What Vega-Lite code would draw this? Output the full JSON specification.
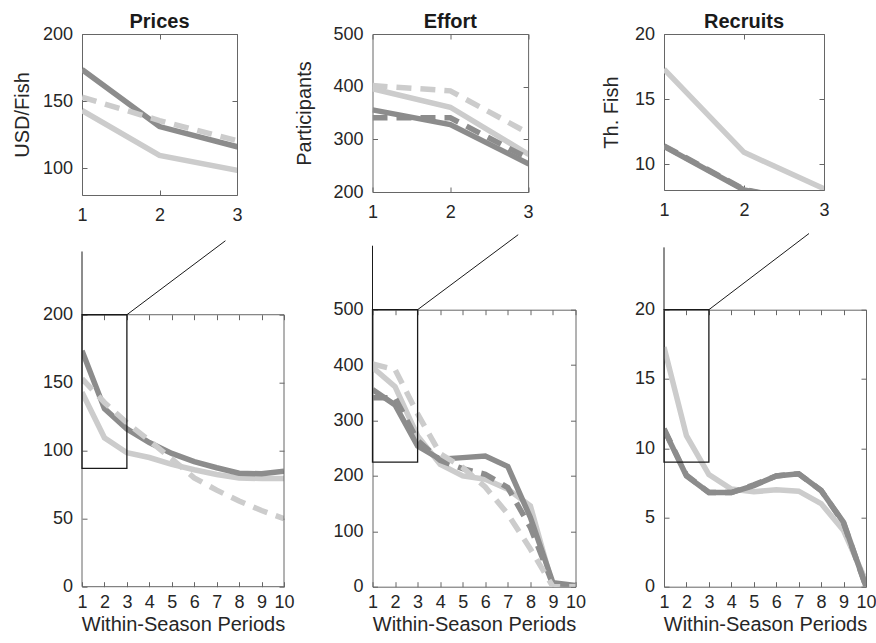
{
  "$schema": "https://vega.github.io/schema/vega-lite/v6.json",
  "background": "white",
  "padding": {"left": 12, "top": 11, "right": 0, "bottom": 0},
  "config": {
    "font": "Liberation Sans",
    "view": {"stroke": "#666666", "strokeWidth": 1},
    "axis": {"labelFont": "Liberation Sans", "labelFontSize": 18, "labelColor": "#262626", "titleFont": "Liberation Sans", "titleFontSize": 20, "titleFontWeight": "normal", "titleColor": "#262626", "domain": false, "tickColor": "#666666", "tickSize": -5, "tickWidth": 1, "grid": false, "labelFlush": false, "labelOverlap": false, "labelBound": false, "format": "d"},
    "title": {"font": "Liberation Sans", "fontSize": 20, "fontWeight": "bold", "color": "#1a1a1a", "offset": -7, "frame": "group", "anchor": "middle"}
  },
  "datasets": {
    "prices": [
      {"s": "ls", "x": 1, "v": 143}, {"s": "ls", "x": 2, "v": 109.5}, {"s": "ls", "x": 3, "v": 98.5}, {"s": "ls", "x": 4, "v": 95}, {"s": "ls", "x": 5, "v": 90}, {"s": "ls", "x": 6, "v": 86}, {"s": "ls", "x": 7, "v": 82.5}, {"s": "ls", "x": 8, "v": 80}, {"s": "ls", "x": 9, "v": 79.5}, {"s": "ls", "x": 10, "v": 79.5},
      {"s": "ds", "x": 1, "v": 173.5}, {"s": "ds", "x": 2, "v": 131}, {"s": "ds", "x": 3, "v": 116}, {"s": "ds", "x": 4, "v": 106}, {"s": "ds", "x": 5, "v": 98}, {"s": "ds", "x": 6, "v": 92}, {"s": "ds", "x": 7, "v": 87.5}, {"s": "ds", "x": 8, "v": 83.5}, {"s": "ds", "x": 9, "v": 83}, {"s": "ds", "x": 10, "v": 85},
      {"s": "ld", "x": 1, "v": 153}, {"s": "ld", "x": 2, "v": 135.5}, {"s": "ld", "x": 3, "v": 120.5}, {"s": "ld", "x": 4, "v": 107.5}, {"s": "ld", "x": 5, "v": 94}, {"s": "ld", "x": 6, "v": 80}, {"s": "ld", "x": 7, "v": 71}, {"s": "ld", "x": 8, "v": 63}, {"s": "ld", "x": 9, "v": 56}, {"s": "ld", "x": 10, "v": 50}
    ],
    "effort": [
      {"s": "ls", "x": 1, "v": 396}, {"s": "ls", "x": 2, "v": 361}, {"s": "ls", "x": 3, "v": 272}, {"s": "ls", "x": 4, "v": 221}, {"s": "ls", "x": 5, "v": 200}, {"s": "ls", "x": 6, "v": 194}, {"s": "ls", "x": 7, "v": 176}, {"s": "ls", "x": 8, "v": 146}, {"s": "ls", "x": 9, "v": 0}, {"s": "ls", "x": 10, "v": 0},
      {"s": "ds", "x": 1, "v": 356}, {"s": "ds", "x": 2, "v": 328}, {"s": "ds", "x": 3, "v": 254}, {"s": "ds", "x": 4, "v": 230}, {"s": "ds", "x": 5, "v": 233}, {"s": "ds", "x": 6, "v": 236}, {"s": "ds", "x": 7, "v": 217}, {"s": "ds", "x": 8, "v": 125}, {"s": "ds", "x": 9, "v": 7}, {"s": "ds", "x": 10, "v": 2},
      {"s": "dd", "x": 1, "v": 341}, {"s": "dd", "x": 2, "v": 341}, {"s": "dd", "x": 3, "v": 264}, {"s": "dd", "x": 4, "v": 228}, {"s": "dd", "x": 5, "v": 213}, {"s": "dd", "x": 6, "v": 203}, {"s": "dd", "x": 7, "v": 179}, {"s": "dd", "x": 8, "v": 107}, {"s": "dd", "x": 9, "v": 4}, {"s": "dd", "x": 10, "v": 1},
      {"s": "ld", "x": 1, "v": 402}, {"s": "ld", "x": 2, "v": 392}, {"s": "ld", "x": 3, "v": 312}, {"s": "ld", "x": 4, "v": 240}, {"s": "ld", "x": 5, "v": 215}, {"s": "ld", "x": 6, "v": 180}, {"s": "ld", "x": 7, "v": 131}, {"s": "ld", "x": 8, "v": 68}, {"s": "ld", "x": 9, "v": 0}, {"s": "ld", "x": 10, "v": 0}
    ],
    "recruits": [
      {"s": "ls", "x": 1, "v": 17.3}, {"s": "ls", "x": 2, "v": 10.9}, {"s": "ls", "x": 3, "v": 8.1}, {"s": "ls", "x": 4, "v": 7.05}, {"s": "ls", "x": 5, "v": 6.85}, {"s": "ls", "x": 6, "v": 7.0}, {"s": "ls", "x": 7, "v": 6.9}, {"s": "ls", "x": 8, "v": 6.0}, {"s": "ls", "x": 9, "v": 4.05}, {"s": "ls", "x": 10, "v": 0.4},
      {"s": "ds", "x": 1, "v": 11.35}, {"s": "ds", "x": 2, "v": 8.0}, {"s": "ds", "x": 3, "v": 6.8}, {"s": "ds", "x": 4, "v": 6.8}, {"s": "ds", "x": 5, "v": 7.3}, {"s": "ds", "x": 6, "v": 8.0}, {"s": "ds", "x": 7, "v": 8.15}, {"s": "ds", "x": 8, "v": 6.95}, {"s": "ds", "x": 9, "v": 4.65}, {"s": "ds", "x": 10, "v": 0},
      {"s": "dd", "x": 1, "v": 11.4}, {"s": "dd", "x": 2, "v": 8.05}, {"s": "dd", "x": 3, "v": 6.8}, {"s": "dd", "x": 4, "v": 6.8}, {"s": "dd", "x": 5, "v": 7.35}, {"s": "dd", "x": 6, "v": 8.0}, {"s": "dd", "x": 7, "v": 8.15}, {"s": "dd", "x": 8, "v": 6.95}, {"s": "dd", "x": 9, "v": 4.6}, {"s": "dd", "x": 10, "v": 0}
    ]
  },
  "columns": 3,
  "spacing": {"row": 114.7, "column": 88.5},
  "bounds": "flush",
  "concat": [
    {
      "title": "Prices",
      "width": 155, "height": 161,
      "layer": [
        {"data": {"name": "prices"}, "transform": [{"filter": "datum.s == 'ls'"}],
         "mark": {"type": "line", "color": "#cccccc", "strokeWidth": 5.5, "clip": true},
         "encoding": {
           "x": {"field": "x", "type": "quantitative", "scale": {"domain": [1, 3], "nice": false, "zero": false}, "axis": {"values": [1, 2, 3], "labelPadding": 16, "title": null}},
           "y": {"field": "v", "type": "quantitative", "scale": {"domain": [80, 200], "nice": false, "zero": false}, "axis": {"values": [100, 150, 200], "labelPadding": 14.5, "title": "USD/Fish", "titlePadding": 9.5}}}},
        {"data": {"name": "prices"}, "transform": [{"filter": "datum.s == 'ds'"}],
         "mark": {"type": "line", "color": "#8c8c8c", "strokeWidth": 5.5, "clip": true},
         "encoding": {
           "x": {"field": "x", "type": "quantitative", "scale": {"domain": [1, 3], "nice": false, "zero": false}, "axis": null},
           "y": {"field": "v", "type": "quantitative", "scale": {"domain": [80, 200], "nice": false, "zero": false}, "axis": null}}},
        {"data": {"name": "prices"}, "transform": [{"filter": "datum.s == 'ld'"}],
         "mark": {"type": "line", "color": "#cccccc", "strokeWidth": 5.5, "strokeDash": [15, 9], "clip": true},
         "encoding": {
           "x": {"field": "x", "type": "quantitative", "scale": {"domain": [1, 3], "nice": false, "zero": false}, "axis": null},
           "y": {"field": "v", "type": "quantitative", "scale": {"domain": [80, 200], "nice": false, "zero": false}, "axis": null}}},
        {"data": {"values": [{"x": 2, "v": 150}]},
         "mark": {"type": "point", "opacity": 0},
         "encoding": {
           "x": {"field": "x", "type": "quantitative", "scale": {"domain": [1, 3], "nice": false, "zero": false}, "axis": {"orient": "top", "values": [1, 2, 3], "labels": false, "title": null}},
           "y": {"field": "v", "type": "quantitative", "scale": {"domain": [80, 200], "nice": false, "zero": false}, "axis": {"orient": "right", "values": [100, 150, 200], "labels": false, "title": null}}}}
      ],
      "resolve": {"axis": {"x": "independent", "y": "independent"}}
    },
    {
      "title": "Effort",
      "width": 155.6, "height": 158,
      "layer": [
        {"data": {"name": "effort"}, "transform": [{"filter": "datum.s == 'ls'"}],
         "mark": {"type": "line", "color": "#cccccc", "strokeWidth": 5.5, "clip": true},
         "encoding": {
           "x": {"field": "x", "type": "quantitative", "scale": {"domain": [1, 3], "nice": false, "zero": false}, "axis": {"values": [1, 2, 3], "labelPadding": 16, "title": null}},
           "y": {"field": "v", "type": "quantitative", "scale": {"domain": [200, 500], "nice": false, "zero": false}, "axis": {"values": [200, 300, 400, 500], "labelPadding": 14.5, "title": "Participants", "titlePadding": 18.7}}}},
        {"data": {"name": "effort"}, "transform": [{"filter": "datum.s == 'ds'"}],
         "mark": {"type": "line", "color": "#8c8c8c", "strokeWidth": 5.5, "clip": true},
         "encoding": {
           "x": {"field": "x", "type": "quantitative", "scale": {"domain": [1, 3], "nice": false, "zero": false}, "axis": null},
           "y": {"field": "v", "type": "quantitative", "scale": {"domain": [200, 500], "nice": false, "zero": false}, "axis": null}}},
        {"data": {"name": "effort"}, "transform": [{"filter": "datum.s == 'dd'"}],
         "mark": {"type": "line", "color": "#8c8c8c", "strokeWidth": 5.5, "strokeDash": [15, 9], "clip": true},
         "encoding": {
           "x": {"field": "x", "type": "quantitative", "scale": {"domain": [1, 3], "nice": false, "zero": false}, "axis": null},
           "y": {"field": "v", "type": "quantitative", "scale": {"domain": [200, 500], "nice": false, "zero": false}, "axis": null}}},
        {"data": {"name": "effort"}, "transform": [{"filter": "datum.s == 'ld'"}],
         "mark": {"type": "line", "color": "#cccccc", "strokeWidth": 5.5, "strokeDash": [15, 9], "clip": true},
         "encoding": {
           "x": {"field": "x", "type": "quantitative", "scale": {"domain": [1, 3], "nice": false, "zero": false}, "axis": null},
           "y": {"field": "v", "type": "quantitative", "scale": {"domain": [200, 500], "nice": false, "zero": false}, "axis": null}}},
        {"data": {"values": [{"x": 2, "v": 300}]},
         "mark": {"type": "point", "opacity": 0},
         "encoding": {
           "x": {"field": "x", "type": "quantitative", "scale": {"domain": [1, 3], "nice": false, "zero": false}, "axis": {"orient": "top", "values": [1, 2, 3], "labels": false, "title": null}},
           "y": {"field": "v", "type": "quantitative", "scale": {"domain": [200, 500], "nice": false, "zero": false}, "axis": {"orient": "right", "values": [200, 300, 400, 500], "labels": false, "title": null}}}}
      ],
      "resolve": {"axis": {"x": "independent", "y": "independent"}}
    },
    {
      "title": "Recruits",
      "width": 160, "height": 156,
      "layer": [
        {"data": {"name": "recruits"}, "transform": [{"filter": "datum.s == 'ls'"}],
         "mark": {"type": "line", "color": "#cccccc", "strokeWidth": 5.5, "clip": true},
         "encoding": {
           "x": {"field": "x", "type": "quantitative", "scale": {"domain": [1, 3], "nice": false, "zero": false}, "axis": {"values": [1, 2, 3], "labelPadding": 16, "title": null}},
           "y": {"field": "v", "type": "quantitative", "scale": {"domain": [8, 20], "nice": false, "zero": false}, "axis": {"values": [10, 15, 20], "labelPadding": 14.5, "title": "Th. Fish", "titlePadding": 13.3}}}},
        {"data": {"name": "recruits"}, "transform": [{"filter": "datum.s == 'ds'"}],
         "mark": {"type": "line", "color": "#8c8c8c", "strokeWidth": 5.5, "clip": true},
         "encoding": {
           "x": {"field": "x", "type": "quantitative", "scale": {"domain": [1, 3], "nice": false, "zero": false}, "axis": null},
           "y": {"field": "v", "type": "quantitative", "scale": {"domain": [8, 20], "nice": false, "zero": false}, "axis": null}}},
        {"data": {"name": "recruits"}, "transform": [{"filter": "datum.s == 'dd'"}],
         "mark": {"type": "line", "color": "#8c8c8c", "strokeWidth": 5.5, "strokeDash": [15, 9], "clip": true},
         "encoding": {
           "x": {"field": "x", "type": "quantitative", "scale": {"domain": [1, 3], "nice": false, "zero": false}, "axis": null},
           "y": {"field": "v", "type": "quantitative", "scale": {"domain": [8, 20], "nice": false, "zero": false}, "axis": null}}},
        {"data": {"values": [{"x": 2, "v": 15}]},
         "mark": {"type": "point", "opacity": 0},
         "encoding": {
           "x": {"field": "x", "type": "quantitative", "scale": {"domain": [1, 3], "nice": false, "zero": false}, "axis": {"orient": "top", "values": [1, 2, 3], "labels": false, "title": null}},
           "y": {"field": "v", "type": "quantitative", "scale": {"domain": [8, 20], "nice": false, "zero": false}, "axis": {"orient": "right", "values": [10, 15, 20], "labels": false, "title": null}}}}
      ],
      "resolve": {"axis": {"x": "independent", "y": "independent"}}
    },
    {
      "width": 202, "height": 277,
      "view": {"stroke": null},
      "layer": [
        {"data": {"name": "prices"}, "transform": [{"filter": "datum.s == 'ls'"}],
         "mark": {"type": "line", "color": "#cccccc", "strokeWidth": 5.5, "clip": true},
         "encoding": {
           "x": {"field": "x", "type": "quantitative", "scale": {"domain": [1, 10], "nice": false, "zero": false}, "axis": {"values": [1, 2, 3, 4, 5, 6, 7, 8, 9, 10], "labelPadding": 11.5, "title": "Within-Season Periods", "titlePadding": 3}},
           "y": {"field": "v", "type": "quantitative", "scale": {"domain": [0, 203.7], "nice": false, "zero": false}, "axis": {"values": [0, 50, 100, 150, 200], "labelPadding": 14.5, "title": null}}}},
        {"data": {"name": "prices"}, "transform": [{"filter": "datum.s == 'ds'"}],
         "mark": {"type": "line", "color": "#8c8c8c", "strokeWidth": 5.5, "clip": true},
         "encoding": {
           "x": {"field": "x", "type": "quantitative", "scale": {"domain": [1, 10], "nice": false, "zero": false}, "axis": null},
           "y": {"field": "v", "type": "quantitative", "scale": {"domain": [0, 203.7], "nice": false, "zero": false}, "axis": null}}},
        {"data": {"name": "prices"}, "transform": [{"filter": "datum.s == 'ld'"}],
         "mark": {"type": "line", "color": "#cccccc", "strokeWidth": 5.5, "strokeDash": [15, 9], "clip": true},
         "encoding": {
           "x": {"field": "x", "type": "quantitative", "scale": {"domain": [1, 10], "nice": false, "zero": false}, "axis": null},
           "y": {"field": "v", "type": "quantitative", "scale": {"domain": [0, 203.7], "nice": false, "zero": false}, "axis": null}}},
        {"data": {"values": [{"x": 1, "x2": 10, "v": 0, "v2": 200}]},
         "mark": {"type": "rect", "filled": false, "stroke": "#666666", "strokeWidth": 1},
         "encoding": {
           "x": {"field": "x", "type": "quantitative", "scale": {"domain": [1, 10], "nice": false, "zero": false}, "axis": null}, "x2": {"field": "x2"},
           "y": {"field": "v", "type": "quantitative", "scale": {"domain": [0, 203.7], "nice": false, "zero": false}, "axis": null}, "y2": {"field": "v2"}}},
        {"data": {"values": [{"x": 1, "x2": 3, "v": 87, "v2": 200}]},
         "mark": {"type": "rect", "filled": false, "stroke": "#1a1a1a", "strokeWidth": 1.3},
         "encoding": {
           "x": {"field": "x", "type": "quantitative", "scale": {"domain": [1, 10], "nice": false, "zero": false}, "axis": null}, "x2": {"field": "x2"},
           "y": {"field": "v", "type": "quantitative", "scale": {"domain": [0, 203.7], "nice": false, "zero": false}, "axis": null}, "y2": {"field": "v2"}}},
        {"data": {"values": [{"x": 1, "x2": 1, "v": 200, "v2": 246.5}, {"x": 3, "x2": 7.39, "v": 200, "v2": 254.4}]},
         "mark": {"type": "rule", "color": "#1a1a1a", "strokeWidth": 1, "clip": false},
         "encoding": {
           "x": {"field": "x", "type": "quantitative", "scale": {"domain": [1, 10], "nice": false, "zero": false}, "axis": null}, "x2": {"field": "x2"},
           "y": {"field": "v", "type": "quantitative", "scale": {"domain": [0, 203.7], "nice": false, "zero": false}, "axis": null}, "y2": {"field": "v2"}}},
        {"data": {"values": [{"x": 5, "v": 100}]},
         "mark": {"type": "point", "opacity": 0},
         "encoding": {
           "x": {"field": "x", "type": "quantitative", "scale": {"domain": [1, 10], "nice": false, "zero": false}, "axis": {"orient": "top", "values": [1, 2, 3, 4, 5, 6, 7, 8, 9, 10], "labels": false, "title": null, "offset": -5}},
           "y": {"field": "v", "type": "quantitative", "scale": {"domain": [0, 203.7], "nice": false, "zero": false}, "axis": {"orient": "right", "values": [0, 50, 100, 150, 200], "labels": false, "title": null}}}}
      ],
      "resolve": {"axis": {"x": "independent", "y": "independent"}}
    },
    {
      "width": 203, "height": 277,
      "layer": [
        {"data": {"name": "effort"}, "transform": [{"filter": "datum.s == 'ls'"}],
         "mark": {"type": "line", "color": "#cccccc", "strokeWidth": 5.5, "clip": true},
         "encoding": {
           "x": {"field": "x", "type": "quantitative", "scale": {"domain": [1, 10], "nice": false, "zero": false}, "axis": {"values": [1, 2, 3, 4, 5, 6, 7, 8, 9, 10], "labelPadding": 11.5, "title": "Within-Season Periods", "titlePadding": 3}},
           "y": {"field": "v", "type": "quantitative", "scale": {"domain": [0, 500], "nice": false, "zero": false}, "axis": {"values": [0, 100, 200, 300, 400, 500], "labelPadding": 14.5, "title": null}}}},
        {"data": {"name": "effort"}, "transform": [{"filter": "datum.s == 'ds'"}],
         "mark": {"type": "line", "color": "#8c8c8c", "strokeWidth": 5.5, "clip": true},
         "encoding": {
           "x": {"field": "x", "type": "quantitative", "scale": {"domain": [1, 10], "nice": false, "zero": false}, "axis": null},
           "y": {"field": "v", "type": "quantitative", "scale": {"domain": [0, 500], "nice": false, "zero": false}, "axis": null}}},
        {"data": {"name": "effort"}, "transform": [{"filter": "datum.s == 'dd'"}],
         "mark": {"type": "line", "color": "#8c8c8c", "strokeWidth": 5.5, "strokeDash": [15, 9], "clip": true},
         "encoding": {
           "x": {"field": "x", "type": "quantitative", "scale": {"domain": [1, 10], "nice": false, "zero": false}, "axis": null},
           "y": {"field": "v", "type": "quantitative", "scale": {"domain": [0, 500], "nice": false, "zero": false}, "axis": null}}},
        {"data": {"name": "effort"}, "transform": [{"filter": "datum.s == 'ld'"}],
         "mark": {"type": "line", "color": "#cccccc", "strokeWidth": 5.5, "strokeDash": [15, 9], "clip": true},
         "encoding": {
           "x": {"field": "x", "type": "quantitative", "scale": {"domain": [1, 10], "nice": false, "zero": false}, "axis": null},
           "y": {"field": "v", "type": "quantitative", "scale": {"domain": [0, 500], "nice": false, "zero": false}, "axis": null}}},
        {"data": {"values": [{"x": 1, "x2": 3, "v": 225, "v2": 500}]},
         "mark": {"type": "rect", "filled": false, "stroke": "#1a1a1a", "strokeWidth": 1.3},
         "encoding": {
           "x": {"field": "x", "type": "quantitative", "scale": {"domain": [1, 10], "nice": false, "zero": false}, "axis": null}, "x2": {"field": "x2"},
           "y": {"field": "v", "type": "quantitative", "scale": {"domain": [0, 500], "nice": false, "zero": false}, "axis": null}, "y2": {"field": "v2"}}},
        {"data": {"values": [{"x": 1, "x2": 1, "v": 500, "v2": 615.5}, {"x": 3, "x2": 7.46, "v": 500, "v2": 635.4}]},
         "mark": {"type": "rule", "color": "#1a1a1a", "strokeWidth": 1, "clip": false},
         "encoding": {
           "x": {"field": "x", "type": "quantitative", "scale": {"domain": [1, 10], "nice": false, "zero": false}, "axis": null}, "x2": {"field": "x2"},
           "y": {"field": "v", "type": "quantitative", "scale": {"domain": [0, 500], "nice": false, "zero": false}, "axis": null}, "y2": {"field": "v2"}}},
        {"data": {"values": [{"x": 5, "v": 250}]},
         "mark": {"type": "point", "opacity": 0},
         "encoding": {
           "x": {"field": "x", "type": "quantitative", "scale": {"domain": [1, 10], "nice": false, "zero": false}, "axis": {"orient": "top", "values": [1, 2, 3, 4, 5, 6, 7, 8, 9, 10], "labels": false, "title": null}},
           "y": {"field": "v", "type": "quantitative", "scale": {"domain": [0, 500], "nice": false, "zero": false}, "axis": {"orient": "right", "values": [0, 100, 200, 300, 400, 500], "labels": false, "title": null}}}}
      ],
      "resolve": {"axis": {"x": "independent", "y": "independent"}}
    },
    {
      "width": 202, "height": 277,
      "layer": [
        {"data": {"name": "recruits"}, "transform": [{"filter": "datum.s == 'ls'"}],
         "mark": {"type": "line", "color": "#cccccc", "strokeWidth": 5.5, "clip": true},
         "encoding": {
           "x": {"field": "x", "type": "quantitative", "scale": {"domain": [1, 10], "nice": false, "zero": false}, "axis": {"values": [1, 2, 3, 4, 5, 6, 7, 8, 9, 10], "labelPadding": 11.5, "title": "Within-Season Periods", "titlePadding": 3}},
           "y": {"field": "v", "type": "quantitative", "scale": {"domain": [0, 20], "nice": false, "zero": false}, "axis": {"values": [0, 5, 10, 15, 20], "labelPadding": 14.5, "title": null}}}},
        {"data": {"name": "recruits"}, "transform": [{"filter": "datum.s == 'ds'"}],
         "mark": {"type": "line", "color": "#8c8c8c", "strokeWidth": 5.5, "clip": true},
         "encoding": {
           "x": {"field": "x", "type": "quantitative", "scale": {"domain": [1, 10], "nice": false, "zero": false}, "axis": null},
           "y": {"field": "v", "type": "quantitative", "scale": {"domain": [0, 20], "nice": false, "zero": false}, "axis": null}}},
        {"data": {"name": "recruits"}, "transform": [{"filter": "datum.s == 'dd'"}],
         "mark": {"type": "line", "color": "#8c8c8c", "strokeWidth": 5.5, "strokeDash": [15, 9], "clip": true},
         "encoding": {
           "x": {"field": "x", "type": "quantitative", "scale": {"domain": [1, 10], "nice": false, "zero": false}, "axis": null},
           "y": {"field": "v", "type": "quantitative", "scale": {"domain": [0, 20], "nice": false, "zero": false}, "axis": null}}},
        {"data": {"values": [{"x": 1, "x2": 3, "v": 9, "v2": 20}]},
         "mark": {"type": "rect", "filled": false, "stroke": "#1a1a1a", "strokeWidth": 1.3},
         "encoding": {
           "x": {"field": "x", "type": "quantitative", "scale": {"domain": [1, 10], "nice": false, "zero": false}, "axis": null}, "x2": {"field": "x2"},
           "y": {"field": "v", "type": "quantitative", "scale": {"domain": [0, 20], "nice": false, "zero": false}, "axis": null}, "y2": {"field": "v2"}}},
        {"data": {"values": [{"x": 1, "x2": 1, "v": 20, "v2": 24.5}, {"x": 3, "x2": 7.46, "v": 20, "v2": 25.5}]},
         "mark": {"type": "rule", "color": "#1a1a1a", "strokeWidth": 1, "clip": false},
         "encoding": {
           "x": {"field": "x", "type": "quantitative", "scale": {"domain": [1, 10], "nice": false, "zero": false}, "axis": null}, "x2": {"field": "x2"},
           "y": {"field": "v", "type": "quantitative", "scale": {"domain": [0, 20], "nice": false, "zero": false}, "axis": null}, "y2": {"field": "v2"}}},
        {"data": {"values": [{"x": 5, "v": 10}]},
         "mark": {"type": "point", "opacity": 0},
         "encoding": {
           "x": {"field": "x", "type": "quantitative", "scale": {"domain": [1, 10], "nice": false, "zero": false}, "axis": {"orient": "top", "values": [1, 2, 3, 4, 5, 6, 7, 8, 9, 10], "labels": false, "title": null}},
           "y": {"field": "v", "type": "quantitative", "scale": {"domain": [0, 20], "nice": false, "zero": false}, "axis": {"orient": "right", "values": [0, 5, 10, 15, 20], "labels": false, "title": null}}}}
      ],
      "resolve": {"axis": {"x": "independent", "y": "independent"}}
    }
  ]
}
